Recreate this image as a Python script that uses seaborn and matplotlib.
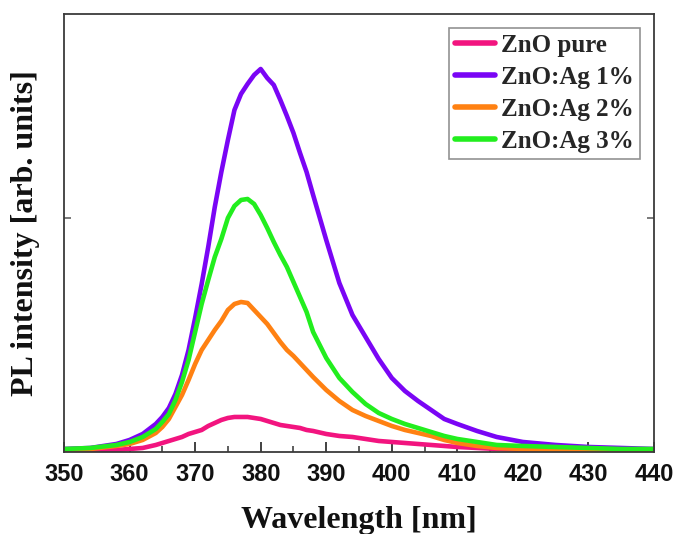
import pandas as pd
import seaborn as sns
import matplotlib.pyplot as plt
from matplotlib.ticker import MultipleLocator

# Photoluminescence spectra of pure and Ag-doped ZnO (arbitrary units)
wavelength = [350, 354, 358, 360, 362, 364, 365, 366, 367, 368, 369, 370, 371, 372,
              373, 374, 375, 376, 377, 378, 379, 380, 381, 382, 383, 384, 385, 386,
              387, 388, 390, 392, 394, 396, 398, 400, 402, 404, 406, 408, 410, 413,
              416, 420, 425, 430, 435, 440]

zno_pure = [1, 1, 2, 3, 4, 7, 9, 11, 13, 15, 18, 20, 22, 26,
            29, 32, 34, 35, 35, 35, 34, 33, 31, 29, 27, 26, 25, 24,
            22, 21, 18, 16, 15, 13, 11, 10, 9, 8, 7, 6, 5, 4,
            3, 2, 1, 1, 0, 0]

zno_ag1 = [3, 4, 8, 12, 18, 28, 35, 44, 58, 77, 102, 134, 168, 205,
           245, 280, 312, 342, 358, 368, 377, 383, 374, 367, 352, 336, 319, 299,
           280, 257, 212, 169, 137, 115, 93, 74, 61, 51, 42, 33, 28, 21,
           15, 10, 7, 5, 4, 3]

zno_ag2 = [2, 3, 6, 8, 12, 19, 25, 33, 45, 57, 72, 88, 102, 112,
           122, 131, 142, 148, 150, 149, 142, 135, 128, 119, 110, 102, 96, 89,
           82, 75, 62, 51, 42, 36, 31, 26, 22, 19, 16, 12, 9, 6,
           4, 3, 2, 2, 1, 1]

zno_ag3 = [3, 4, 7, 10, 15, 23, 30, 38, 52, 70, 92, 120, 148, 172,
           195, 213, 234, 246, 252, 253, 248, 237, 224, 210, 197, 185, 170, 155,
           140, 120, 94, 74, 60, 48, 39, 33, 28, 24, 20, 16, 13, 10,
           7, 6, 5, 4, 3, 3]

samples = ["ZnO pure", "ZnO:Ag 1%", "ZnO:Ag 2%", "ZnO:Ag 3%"]
colors = ["#F2147F", "#7A05F5", "#FF8112", "#22EE1E"]

wide = pd.DataFrame({"Wavelength": wavelength,
                     samples[0]: zno_pure,
                     samples[1]: zno_ag1,
                     samples[2]: zno_ag2,
                     samples[3]: zno_ag3})
long = wide.melt(id_vars="Wavelength", var_name="Sample", value_name="Intensity")

sns.set_theme(style="ticks")
plt.rcParams["font.family"] = ["Liberation Sans", "DejaVu Sans"]

fig = plt.figure(figsize=(6.73, 5.34), dpi=100)
ax = fig.add_axes([0.0951, 0.1536, 0.8767, 0.8202])

sns.lineplot(data=long, x="Wavelength", y="Intensity", hue="Sample",
             hue_order=samples, palette=dict(zip(samples, colors)),
             linewidth=3.3, ax=ax)

ax.set_xlim(350, 440)
ax.set_ylim(0, 438)
ax.xaxis.set_major_locator(MultipleLocator(10))
ax.xaxis.set_minor_locator(MultipleLocator(5))
ax.set_yticks([234])

ax.tick_params(axis="x", which="major", direction="in", length=7, width=1.3,
               color="#333333", labelsize=17, pad=8, top=False, bottom=True)
ax.tick_params(axis="x", which="minor", direction="in", length=4, width=1.1,
               color="#333333", top=False, bottom=True)
ax.tick_params(axis="y", which="major", direction="in", length=5, width=1.1,
               color="#555555", left=True, right=True, labelleft=False)
for t in ax.get_xticklabels():
    t.set_fontweight("bold")
    t.set_color("#111111")

for s in ax.spines.values():
    s.set_visible(True)
    s.set_color("#3a3a3a")
    s.set_linewidth(1.3)

ax.set_xlabel("Wavelength [nm]", fontfamily="Liberation Serif", fontweight="bold",
              fontsize=23, labelpad=14, color="#111111")
ax.set_ylabel("PL intensity [arb. units]", fontfamily="Liberation Serif",
              fontweight="bold", fontsize=23, labelpad=17, color="#111111")

handles, labels = ax.get_legend_handles_labels()
leg = ax.legend(handles, labels, loc="upper right", frameon=True, fancybox=False,
                prop={"family": "Liberation Serif", "weight": "bold", "size": 18},
                handlelength=1.6, handletextpad=0.25, labelspacing=0.36,
                borderpad=0.25, borderaxespad=0.55)
leg.get_frame().set_edgecolor("#777777")
leg.get_frame().set_linewidth(1.2)
for line in leg.get_lines():
    line.set_linewidth(4)

fig.savefig("out.png", dpi=100, facecolor="white")
